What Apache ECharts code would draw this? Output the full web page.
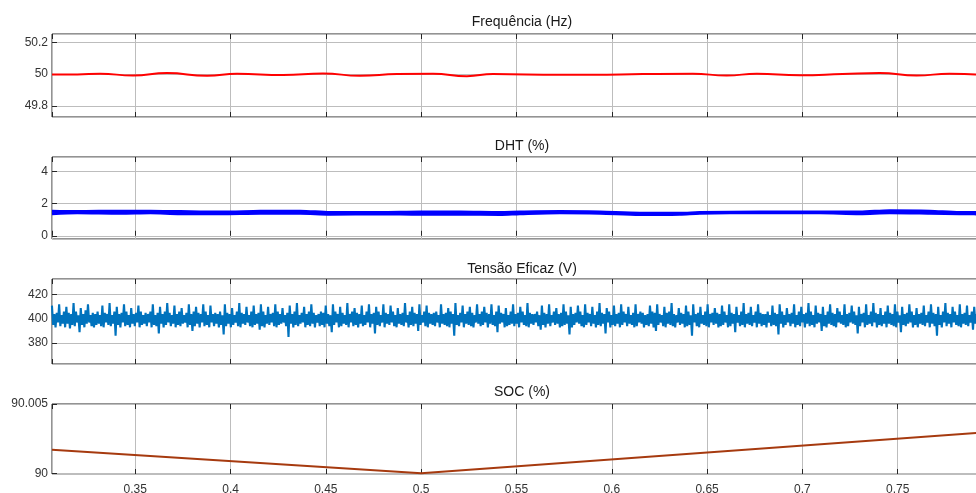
<!DOCTYPE html>
<html>
<head>
<meta charset="utf-8">
<script src="https://cdn.jsdelivr.net/npm/echarts@6/dist/echarts.min.js"></script>
<style>html,body{margin:0;padding:0;background:#fff}#c{width:976px;height:493px}</style>
</head>
<body>
<div id="c"></div>
<script>
// ---- data ----
const titles = ['Frequência (Hz)', 'DHT (%)', 'Tensão Eficaz (V)', 'SOC (%)'];

const freqT = [0.30633,0.3196,0.3316,0.3489,0.3667,0.3877,0.4034,0.4276,0.4485,0.4679,0.4873,0.5062,0.5240,0.5377,0.5728,0.5901,0.6163,0.6425,0.6603,0.6761,0.6986,0.7211,0.7405,0.7599,0.7772,0.7909,0.8];
const freqV = [49.998,49.998,50.002,49.991,50.006,49.989,50.002,49.994,50.004,49.989,50.000,50.002,49.987,50.000,49.996,49.996,50.000,50.002,49.991,50.002,49.993,50.000,50.006,49.991,50.002,49.998,49.996];

const dhtT = [0.30633,0.3196,0.3421,0.3579,0.3736,0.3946,0.4155,0.4365,0.4523,0.4784,0.4994,0.5204,0.5413,0.5518,0.5728,0.5938,0.6147,0.6357,0.6462,0.6777,0.7091,0.7301,0.7458,0.7668,0.7825,0.8];
const dhtA = [1.53,1.50,1.53,1.53,1.50,1.47,1.52,1.53,1.44,1.44,1.47,1.47,1.44,1.47,1.50,1.47,1.40,1.40,1.44,1.47,1.47,1.47,1.56,1.53,1.44,1.44];
const dhtB = [1.37,1.43,1.40,1.43,1.37,1.37,1.40,1.40,1.34,1.37,1.34,1.34,1.32,1.37,1.43,1.40,1.32,1.34,1.40,1.43,1.43,1.37,1.43,1.40,1.37,1.35];

const vStart = 0.3063, vStep = 0.00063;
const vRms = [
411,395,404,393,405,397,412,394,403,396,406,393,410,396,405,392,404,395,413,394,406,397,403,389,
409,395,404,393,407,396,412,397,403,394,405,393,404,395,406,396,403,394,411,393,405,397,404,395,
413,394,403,396,406,386,410,395,404,393,405,397,412,394,406,395,403,393,409,396,404,394,405,397,
411,393,406,395,403,396,405,394,404,397,406,393,412,395,403,394,405,388,410,396,404,393,406,395,
413,397,405,394,403,396,411,393,404,395,406,394,409,396,403,397,405,393,412,395,404,390,406,394,
410,396,405,393,404,397,412,394,406,395,403,393,411,397,404,394,405,396,404,393,406,395,403,387,
412,394,405,396,404,393,409,395,403,397,406,394,413,393,405,396,404,395,410,397,403,394,406,393,
411,395,404,396,405,391,412,394,406,393,403,396,410,395,404,397,405,394,412,393,406,395,404,396,
409,397,403,394,405,385,411,396,404,393,406,395,413,394,403,396,405,397,410,393,404,395,406,394,
412,396,405,393,403,397,404,394,406,395,405,393,411,396,404,394,403,389,412,395,406,397,404,393,
410,394,405,396,403,395,413,393,404,397,406,394,409,395,405,393,404,396,411,394,403,395,406,397,
412,393,404,396,405,388,410,395,406,394,403,397,412,393,405,396,404,395,411,397,406,394,403,393,
409,396,404,395,405,394,413,397,403,393,406,395,410,394,405,396,404,390,412,395,403,397,406,394,
411,393,405,396,404,395,405,394,406,397,403,393,412,396,404,395,405,394,409,393,406,396,404,386,
413,395,403,394,405,397,411,393,404,396,406,395,410,394,405,393,403,397,412,396,404,394,406,395,
410,397,405,393,404,396,412,395,403,394,406,389,411,396,405,397,404,393,409,394,403,395,406,396,
412,394,404,396,405,393,410,397,406,395,403,394,413,393,405,396,404,395,404,397,406,394,403,391,
411,395,405,393,404,396,412,394,403,397,406,395,409,396,404,393,405,394,412,395,406,396,403,387,
410,393,404,395,405,397,411,396,406,394,403,393,412,395,405,397,404,394,410,396,403,393,406,395,
413,394,405,396,404,388,409,397,406,393,403,395,411,394,404,396,405,393,412,395,406,397,404,394,
410,396,403,395,405,393,412,394,404,397,406,396,405,393,403,395,404,394,411,396,406,393,405,390,
412,395,404,397,403,394,410,393,405,396,406,395,413,394,404,393,403,397,409,395,405,396,404,393,
411,394,406,395,403,386,412,397,404,394,405,393,410,396,403,395,406,394,412,393,404,397,405,395,
409,396,405,393,404,394,411,395,406,397,403,393,412,394,405,396,404,389,410,397,403,394,406,395,
413,393,404,396,405,395,410,394,403,397,406,393,412,396,405,394,404,395,404,393,406,397,403,394,
411,395,405,394,404,387,412,396,406,393,403,395,409,397,404,394,405,396,412,393,403,395,406,394,
410,397,404,393,405,396,413,394,406,395,403,393,411,396,405,397,404,390,410,394,403,393,406,396,
412,395,405,394,404,393,409,397,406,396,403,395,412,393,404,394,405,397,411,396,406,395,403,388,
410,394,404,397,405,393,412,395,403,396,406,394,413,397,405,393,404,395,409,394,403,396,406,393,
411,396,405,395,404,394,412,393,406,397,403,389,410,395,404,394,405,396,412,397,406,393,403,395,
409,393,404,396,405,395,411,394,403,397,406,393,412,396,405,394,404,386,410,395,403,393,406,397,
413,394,405,396,404,393,410,397,406,395,403,394,412,393,404,396,405,395,411,394,403,397,406,391,
410,396,404,393,405,397,412,395,406,394,403,393,409,396,405,397,404,394
];

const socT = [0.30633, 0.5, 0.8];
const socV = [90.0017, 90.0, 90.003];

// ---- layout ----
const X_MIN = 0.30633, X_MAX = 0.8;
const grids = [
  {left: 52, width: 941, top: 34, height: 83},
  {left: 52, width: 941, top: 157, height: 82},
  {left: 52, width: 941, top: 279, height: 85},
  {left: 52, width: 941, top: 404, height: 70}
];
const yCfg = [
  {min: 49.729, max: 50.253, iv: 0.2, showMax: false},
  {min: -0.2, max: 4.89, iv: 2, showMax: false},
  {min: 362.6, max: 433, iv: 20, showMax: false},
  {min: 89.99995, max: 90.005, iv: 0.005, showMax: true}
];
const titleTops = [10, 134, 257, 380];

const FONT = '"Liberation Sans", Arial, Helvetica, sans-serif';
const gridLine = {show: true, lineStyle: {color: '#bdbdbd', width: 1}};

const xAxes = [], yAxes = [];
grids.forEach((g, i) => {
  xAxes.push({
    type: 'value', gridIndex: i, min: X_MIN, max: X_MAX,
    splitNumber: 10, minInterval: 0.05, maxInterval: 0.05,
    axisLine: {show: false},
    axisTick: {show: true, inside: true, length: 5, lineStyle: {color: '#262626'}},
    axisLabel: {show: i === 3, color: '#333', fontFamily: FONT, fontSize: 12, margin: 10,
                showMinLabel: false, showMaxLabel: false},
    splitLine: gridLine
  });
  xAxes.push({
    type: 'value', gridIndex: i, position: 'top', min: X_MIN, max: X_MAX,
    splitNumber: 10, minInterval: 0.05, maxInterval: 0.05,
    axisLine: {show: false},
    axisTick: {show: true, inside: true, length: 5, lineStyle: {color: '#262626'}},
    axisLabel: {show: false}, splitLine: {show: false}
  });
  const c = yCfg[i];
  yAxes.push({
    type: 'value', gridIndex: i, min: c.min, max: c.max,
    splitNumber: 3, minInterval: c.iv, maxInterval: c.iv,
    axisLine: {show: false},
    axisTick: {show: true, inside: true, length: 5, lineStyle: {color: '#262626'}},
    axisLabel: {color: '#333', fontFamily: FONT, fontSize: 12, margin: 4,
                showMinLabel: false, showMaxLabel: c.showMax},
    splitLine: gridLine
  });
});

const zip = (a, b) => a.map((v, k) => [v, b[k]]);
const vData = vRms.map((v, k) => [vStart + k * vStep, v]);

const option = {
  animation: false,
  backgroundColor: '#fff',
  title: titles.map((t, i) => ({
    text: t, left: 517, top: titleTops[i], textAlign: 'center',
    textStyle: {fontFamily: FONT, fontSize: 14, fontWeight: 'normal', color: '#1a1a1a'}
  })),
  grid: grids.map(g => Object.assign({show: true, borderColor: '#262626', borderWidth: 1,
                                      backgroundColor: '#fff', outerBoundsMode: 'none', containLabel: false}, g)),
  xAxis: xAxes,
  yAxis: yAxes,
  series: [
    {type: 'line', xAxisIndex: 0, yAxisIndex: 0, data: zip(freqT, freqV), smooth: 0.5,
     symbol: 'none', lineStyle: {color: '#ff0000', width: 2}},
    {type: 'line', xAxisIndex: 2, yAxisIndex: 1, data: zip(dhtT, dhtA), smooth: 0.3,
     symbol: 'none', lineStyle: {color: '#0000ff', width: 3}},
    {type: 'line', xAxisIndex: 2, yAxisIndex: 1, data: zip(dhtT, dhtB), smooth: 0.3,
     symbol: 'none', lineStyle: {color: '#0000ff', width: 3}},
    {type: 'line', xAxisIndex: 4, yAxisIndex: 2, data: vData,
     symbol: 'none', lineStyle: {color: '#0072BD', width: 2.1}},
    {type: 'line', xAxisIndex: 6, yAxisIndex: 3, data: zip(socT, socV),
     symbol: 'none', lineStyle: {color: '#a63a0f', width: 2}}
  ]
};

const chart = echarts.init(document.getElementById('c'), null, {renderer: 'canvas'});
chart.setOption(option);
</script>
</body>
</html>
